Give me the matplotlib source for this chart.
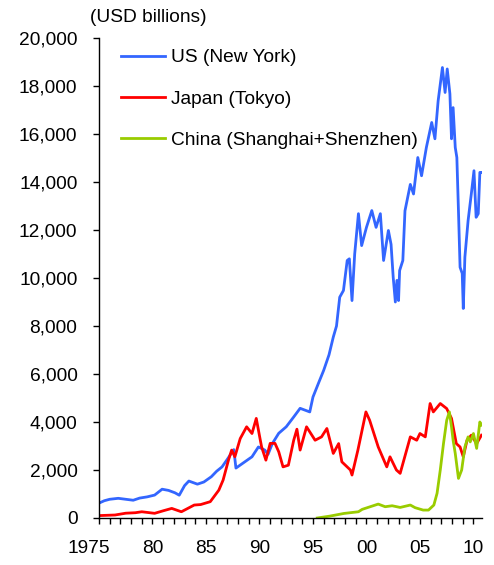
import matplotlib
matplotlib.use('Agg')
import matplotlib.pyplot as plt
import matplotlib.transforms as mtransforms
from matplotlib.ticker import FuncFormatter, MultipleLocator

# market capitalisation, USD billions
us_years = [1975.0, 1975.5, 1976.0, 1976.8, 1977.5, 1978.2, 1978.8, 1979.5, 1980.2, 1980.9,
            1981.5, 1982.1, 1982.5, 1983.0, 1983.4, 1984.2, 1984.8, 1985.5, 1986.0, 1986.5,
            1987.0, 1987.6, 1987.8, 1988.5, 1989.3, 1989.9, 1990.5, 1990.8, 1991.2, 1991.8,
            1992.5, 1993.2, 1993.8, 1994.7, 1995.0, 1995.5, 1996.0, 1996.5, 1996.9, 1997.2,
            1997.5, 1997.85, 1998.2, 1998.4, 1998.65, 1998.9, 1999.25, 1999.55, 2000.0, 2000.5,
            2000.9, 2001.3, 2001.6, 2002.05, 2002.3, 2002.5, 2002.7, 2002.85, 2003.0, 2003.1,
            2003.4, 2003.6, 2004.1, 2004.4, 2004.8, 2005.15, 2005.6, 2006.1, 2006.4, 2006.7,
            2007.1, 2007.35, 2007.55, 2007.8, 2007.95, 2008.1, 2008.3, 2008.45, 2008.6, 2008.75,
            2008.95, 2009.05, 2009.2, 2009.5, 2009.8, 2010.05, 2010.25, 2010.45, 2010.6, 2010.75]
us_cap = [620, 720, 780, 820, 780, 740, 830, 880, 955, 1200,
          1150, 1050, 950, 1350, 1540, 1410, 1500, 1720, 1950, 2130,
          2450, 2850, 2080, 2300, 2550, 2960, 2830, 2650, 3100, 3530,
          3800, 4210, 4570, 4420, 5040, 5600, 6150, 6800, 7540, 8000,
          9200, 9480, 10730, 10800, 9060, 11000, 12680, 11350, 12110, 12810,
          12110, 12680, 10730, 11980, 11400, 10030, 9000, 9900, 9060, 10310,
          10730, 12800, 13900, 13500, 15020, 14260, 15440, 16480, 15800, 17380,
          18770, 17730, 18710, 17670, 15800, 17100, 15440, 15020, 12800, 10450,
          10190, 8730, 10870, 12390, 13500, 14470, 12530, 12680, 14400, 14400]

jp_years = [1975.0, 1976.5, 1977.5, 1978.4, 1979.0, 1980.2, 1981.0, 1981.8, 1982.7, 1983.3,
            1983.9, 1984.5, 1985.4, 1986.2, 1986.6, 1987.1, 1987.4, 1987.7, 1988.2, 1988.8,
            1989.3, 1989.7, 1990.05, 1990.2, 1990.6, 1991.0, 1991.45, 1991.8, 1992.2, 1992.7,
            1993.2, 1993.5, 1993.8, 1994.4, 1995.2, 1995.8, 1996.3, 1996.9, 1997.4, 1997.7,
            1998.5, 1998.65, 1999.2, 1999.95, 2000.3, 2001.1, 2001.9, 2002.2, 2002.8, 2003.15,
            2004.1, 2004.7, 2005.0, 2005.5, 2005.95, 2006.25, 2006.9, 2007.5, 2007.95, 2008.4,
            2008.75, 2009.05, 2009.4, 2009.8, 2010.3, 2010.75]
jp_cap = [100, 125, 200, 220, 260, 195, 300, 400, 260, 400,
          540, 560, 680, 1160, 1580, 2410, 2830, 2550, 3310, 3800,
          3520, 4150, 3310, 2960, 2410, 3110, 3110, 2760, 2130, 2200,
          3240, 3700, 2830, 3800, 3240, 3380, 3730, 2690, 3100, 2340,
          2000, 1790, 2830, 4420, 4070, 2960, 2130, 2550, 2000, 1860,
          3380, 3240, 3520, 3380, 4770, 4420, 4770, 4560, 4150, 3100,
          2960, 2550, 3240, 3450, 3100, 3450]

cn_years = [1995.4, 1996.6, 1997.9, 1999.25, 1999.6, 2000.35, 2001.1, 2001.75, 2002.4, 2003.15,
            2004.1, 2004.55, 2005.3, 2005.8, 2006.3, 2006.6, 2006.9, 2007.2, 2007.5, 2007.75,
            2007.95, 2008.1, 2008.3, 2008.6, 2008.9, 2009.2, 2009.5, 2009.7, 2010.0, 2010.3,
            2010.6, 2010.75]
cn_cap = [0, 80, 190, 260, 360, 470, 580, 470, 510, 440,
          540, 430, 330, 330, 540, 1030, 2000, 3100, 4070, 4420,
          3800, 3240, 2690, 1650, 2000, 2960, 3380, 3170, 3520, 2900,
          4000, 3870]

xtick_pos = [1975, 1980, 1985, 1990, 1995, 2000, 2005, 2010]
xtick_lab = ['1975', '80', '85', '90', '95', '00', '05', '10']

plt.rcParams['font.family'] = ['Liberation Sans', 'DejaVu Sans']
fs = 13.8

fig = plt.figure(figsize=(4.94, 5.65), dpi=100)
ax = fig.add_axes([99/494, 1 - 518/565, (482 - 99)/494, (518 - 38)/565])

ax.plot(us_years, us_cap, color='#3366FF', lw=2.0, label='US (New York)')
ax.plot(jp_years, jp_cap, color='#FF0000', lw=2.0, label='Japan (Tokyo)')
ax.plot(cn_years, cn_cap, color='#99CC00', lw=2.0, label='China (Shanghai+Shenzhen)')

ax.set_xlim(1975, 2010.8)
ax.set_ylim(0, 20000)
ax.yaxis.set_major_locator(MultipleLocator(2000))
ax.yaxis.set_major_formatter(FuncFormatter(lambda v, p: f'{int(v):,}'))
ax.set_xticks(xtick_pos)
ax.set_xticklabels(xtick_lab)
ax.xaxis.set_minor_locator(MultipleLocator(1))

for s in ['top', 'right']:
    ax.spines[s].set_visible(False)
for s in ['left', 'bottom']:
    ax.spines[s].set_linewidth(1.0)

ax.tick_params(axis='y', which='major', direction='out', length=4.5, width=1.0, pad=11, labelsize=fs)
ax.tick_params(axis='x', which='both', direction='out', length=4.5, width=1.0, pad=11, labelsize=fs)

# first year label sits a little left of its tick, as in the original
first = ax.get_xticklabels()[0]
first.set_transform(first.get_transform() + mtransforms.ScaledTranslation(-10/100, 0, fig.dpi_scale_trans))

fig.text(90/494, 1 - 18/565, '(USD billions)', ha='left', va='center', fontsize=fs)

ax.legend(loc='upper left', bbox_to_anchor=(121/494, 1 - 49/565), bbox_transform=fig.transFigure,
          frameon=False, fontsize=fs, handlelength=2.3, handletextpad=0.3, labelspacing=1.25,
          borderpad=0, borderaxespad=0)

fig.savefig('out.png', dpi=100)
